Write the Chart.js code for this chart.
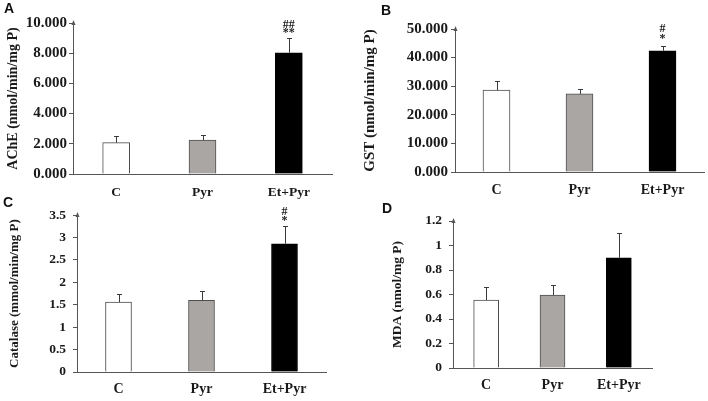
<!DOCTYPE html>
<html>
<head>
<meta charset="utf-8">
<script src="https://cdn.jsdelivr.net/npm/chart.js@4.4.1/dist/chart.umd.min.js"></script>
<style>
  html, body { margin: 0; padding: 0; background: #fff; }
  #wrap { position: relative; width: 708px; height: 401px; overflow: hidden; background: #fff; }
  .panel { position: absolute; }
  .plabel { position: absolute; font-family: "Liberation Sans", Arial, sans-serif; font-weight: bold; font-size: 14px; line-height: 14px; color: #111; }
</style>
</head>
<body>
<div id="wrap">
  <canvas id="cA" class="panel" width="354" height="200" style="left:0;top:0"></canvas>
  <canvas id="cB" class="panel" width="354" height="200" style="left:354px;top:0"></canvas>
  <canvas id="cC" class="panel" width="354" height="201" style="left:0;top:200px"></canvas>
  <canvas id="cD" class="panel" width="354" height="201" style="left:354px;top:200px"></canvas>
  <div class="plabel" style="left:4px;top:1px">A</div>
  <div class="plabel" style="left:381px;top:3px">B</div>
  <div class="plabel" style="left:3px;top:195px">C</div>
  <div class="plabel" style="left:382px;top:201px">D</div>
</div>
<script>
// ---- data ----
const categories = ['C', 'Pyr', 'Et+Pyr'];

const acheMeans = [2.08, 2.24, 8.03];
const acheErrors = [0.46, 0.31, 1.00];
const acheMarks = ['', '', '##\n**'];

const gstMeans = [28.6, 27.3, 42.4];
const gstErrors = [3.1, 1.6, 1.7];
const gstMarks = ['', '', '#\n*'];

const catalaseMeans = [1.56, 1.60, 2.86];
const catalaseErrors = [0.18, 0.20, 0.40];
const catalaseMarks = ['', '', '#\n*'];

const mdaMeans = [0.555, 0.595, 0.90];
const mdaErrors = [0.11, 0.08, 0.20];
const mdaMarks = ['', '', ''];

const acheTicks = ['0.000', '2.000', '4.000', '6.000', '8.000', '10.000'];
const gstTicks = ['0.000', '10.000', '20.000', '30.000', '40.000', '50.000'];
const catalaseTicks = ['0', '0.5', '1', '1.5', '2', '2.5', '3', '3.5'];
const mdaTicks = ['0', '0.2', '0.4', '0.6', '0.8', '1', '1.2'];

// ---- styles ----
const fills = ['#ffffff', '#aaa6a4', '#000000'];
const borders = ['#4d4d4d', '#4d4d4d', '#000000'];
const axisColor = '#555555';
const textColor = '#1a1a1a';
const serif = '"Liberation Serif", "Times New Roman", serif';

const errorBarPlugin = {
  id: 'errorBars',
  afterDatasetsDraw(chart, args, opts) {
    const ctx = chart.ctx;
    const meta = chart.getDatasetMeta(0);
    const ys = chart.scales.y;
    const ds = chart.data.datasets[0];
    ctx.save();
    meta.data.forEach((bar, i) => {
      const v = ds.data[i];
      const e = opts.errors[i];
      const yTop = Math.round(ys.getPixelForValue(v + e)) + 0.5;
      const yBase = bar.y;
      const x = Math.round(bar.x) + 0.5;
      ctx.strokeStyle = '#3a3a3a';
      ctx.lineWidth = 1;
      ctx.beginPath();
      ctx.moveTo(x, yBase);
      ctx.lineTo(x, yTop);
      ctx.moveTo(x - 2.5, yTop);
      ctx.lineTo(x + 2.5, yTop);
      ctx.stroke();
      const mk = opts.marks[i];
      if (mk) {
        const lines = mk.split('\n');
        ctx.fillStyle = textColor;
        ctx.font = 'bold ' + opts.markSize + 'px ' + serif;
        ctx.textAlign = 'center';
        ctx.textBaseline = 'alphabetic';
        for (let k = lines.length - 1, j = 0; k >= 0; k--, j++) {
          ctx.fillText(lines[k], bar.x, yTop - opts.markGap - j * opts.markLine);
        }
      }
    });
    // arrow head at top of y axis
    const ax = Math.round(chart.chartArea.left) + 0.5;
    const top = chart.chartArea.top;
    ctx.fillStyle = axisColor;
    ctx.beginPath();
    ctx.moveTo(ax, top - 3);
    ctx.lineTo(ax - 2, top + 2);
    ctx.lineTo(ax + 2, top + 2);
    ctx.closePath();
    ctx.fill();
    ctx.restore();
  }
};

function makeChart(id, cfg) {
  return new Chart(document.getElementById(id), {
    type: 'bar',
    data: {
      labels: categories,
      datasets: [{
        data: cfg.means,
        backgroundColor: fills,
        borderColor: borders,
        borderWidth: 1,
        barThickness: cfg.barW,
        borderSkipped: 'bottom'
      }]
    },
    options: {
      responsive: false,
      animation: false,
      devicePixelRatio: 1,
      layout: { padding: { top: cfg.top, right: cfg.right, left: 0, bottom: 0 } },
      plugins: {
        legend: { display: false },
        tooltip: { enabled: false },
        errorBars: { errors: cfg.errors, marks: cfg.marks, markSize: cfg.markSize, markGap: cfg.markGap, markLine: cfg.markLine }
      },
      scales: {
        x: {
          grid: { display: false },
          border: { display: true, color: axisColor, width: 1 },
          ticks: { color: textColor, font: { family: serif, weight: 'bold', size: cfg.catSize }, padding: cfg.catPad, maxRotation: 0 },
          afterFit: s => { s.height = cfg.xH; }
        },
        y: {
          min: 0, max: cfg.max,
          grid: { display: true, drawOnChartArea: false, drawTicks: true, tickLength: 4, color: axisColor },
          border: { display: true, color: axisColor, width: 1 },
          ticks: {
            stepSize: cfg.step,
            color: textColor,
            font: { family: serif, weight: 'bold', size: cfg.tickSize },
            padding: cfg.tickPad,
            callback: (v, i) => cfg.ticks[i]
          },
          title: {
            display: true, text: cfg.title, color: textColor,
            font: { family: serif, weight: 'bold', size: cfg.titleSize },
            padding: { top: cfg.titlePad, bottom: 0 }
          },
          afterFit: s => { s.width = cfg.yW; }
        }
      }
    },
    plugins: [errorBarPlugin]
  });
}

makeChart('cA', { means: acheMeans, errors: acheErrors, marks: acheMarks, ticks: acheTicks, max: 10, step: 2,
  title: 'AChE (nmol/min/mg P)', top: 23, right: 22, xH: 26, yW: 73, barW: 27,
  tickSize: 15, tickPad: 2, titleSize: 14, titlePad: 5, catSize: 13.5, catPad: 2, markSize: 12, markGap: 3, markLine: 8 });

makeChart('cB', { means: gstMeans, errors: gstErrors, marks: gstMarks, ticks: gstTicks, max: 50, step: 10,
  title: 'GST (nmol/min/mg P)', top: 29, right: 4, xH: 28, yW: 101, barW: 27,
  tickSize: 15, tickPad: 3, titleSize: 15, titlePad: 7, catSize: 14, catPad: 2, markSize: 12, markGap: 5, markLine: 10 });

makeChart('cC', { means: catalaseMeans, errors: catalaseErrors, marks: catalaseMarks, ticks: catalaseTicks, max: 3.5, step: 0.5,
  title: 'Catalase (mmol/min/mg P)', top: 15, right: 28, xH: 29, yW: 77, barW: 26,
  tickSize: 13.5, tickPad: 7, titleSize: 13, titlePad: 7, catSize: 14, catPad: 1, markSize: 12, markGap: 3, markLine: 9 });

makeChart('cD', { means: mdaMeans, errors: mdaErrors, marks: mdaMarks, ticks: mdaTicks, max: 1.2, step: 0.2,
  title: 'MDA (nmol/mg P)', top: 21, right: 56, xH: 33, yW: 99, barW: 25,
  tickSize: 13.5, tickPad: 7, titleSize: 13.5, titlePad: 35, catSize: 14, catPad: 1, markSize: 12, markGap: 3, markLine: 9 });
</script>
</body>
</html>
